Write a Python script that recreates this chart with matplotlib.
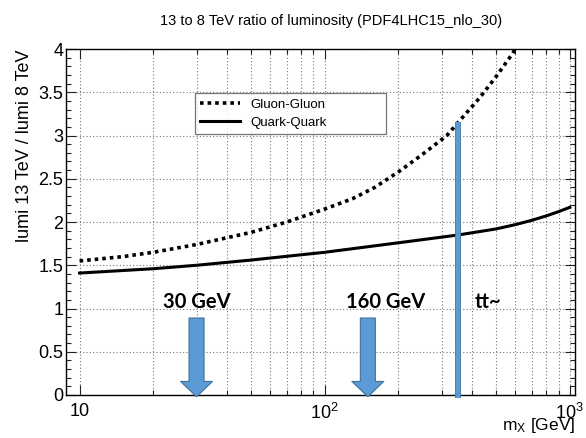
import matplotlib
matplotlib.use('Agg')
import matplotlib.pyplot as plt
import matplotlib.patheffects as pe
from matplotlib.ticker import FixedLocator, FixedFormatter, MultipleLocator, NullFormatter

plt.rcParams['font.family'] = ['Liberation Sans', 'DejaVu Sans']
plt.rcParams['mathtext.fontset'] = 'custom'
plt.rcParams['mathtext.rm'] = 'Liberation Sans'
plt.rcParams['mathtext.it'] = 'Liberation Sans:italic'

# Gluon-Gluon luminosity ratio
mass_gg = [10, 15, 20, 30, 50, 70, 100, 130, 160, 200, 250, 315, 350, 430, 500, 585, 620]
lumi_gg = [1.55, 1.60, 1.65, 1.74, 1.88, 2.00, 2.15, 2.27, 2.40, 2.58, 2.78, 3.00, 3.15,
           3.44, 3.68, 3.95, 4.08]

# Quark-Quark luminosity ratio
mass_qq = [10, 20, 30, 50, 100, 200, 350, 500, 600, 700, 800, 900, 1000]
lumi_qq = [1.41, 1.46, 1.50, 1.56, 1.65, 1.76, 1.85, 1.92, 1.97, 2.02, 2.07, 2.12, 2.17]

# annotations on the plot
arrow_mass = [30, 150]
arrow_labels = ['30 GeV', '160 GeV']
label_mass = [30, 177]
ttbar_mass = 350
ttbar_top = 3.16

blue = '#5B9BD5'
blue_edge = '#41719C'

fig = plt.figure(figsize=(5.86, 4.38), dpi=100)
ax = fig.add_axes([0.1126, 0.0982, 0.8686, 0.7898])

ax.plot(mass_gg, lumi_gg, color='black', lw=2.6, linestyle=(0, (1, 1.1)),
        dash_capstyle='butt', label='Gluon-Gluon')
ax.plot(mass_qq, lumi_qq, color='black', lw=2.2, label='Quark-Quark')

ax.set_xscale('log')
ax.set_xlim(8.8, 1050)
ax.set_ylim(0, 4)

# ticks ROOT style
ax.xaxis.set_major_locator(FixedLocator([10, 100, 1000]))
ax.xaxis.set_major_formatter(FixedFormatter(['10', r'$10^2$', r'$10^3$']))
ax.xaxis.set_minor_locator(FixedLocator([m * d for d in (10, 100) for m in range(2, 10)]))
ax.xaxis.set_minor_formatter(NullFormatter())
ax.yaxis.set_major_locator(MultipleLocator(0.5))
ax.yaxis.set_minor_locator(MultipleLocator(0.1))
ax.yaxis.set_major_formatter(plt.FuncFormatter(lambda v, p: '%g' % v))
ax.tick_params(which='both', direction='in', top=True, right=True, labelsize=13, color='#222222')
ax.tick_params(which='major', length=7, width=0.8)
ax.tick_params(which='minor', length=3.5, width=0.8)
ax.tick_params(axis='x', pad=6)
ax.tick_params(axis='y', pad=2)

ax.grid(True, which='major', axis='both', linestyle=(0, (1, 2)), color='#777777', lw=0.8)
ax.grid(True, which='minor', axis='x', linestyle=(0, (1, 2)), color='#777777', lw=0.8)
ax.set_axisbelow(True)
for s in ax.spines.values():
    s.set_linewidth(1.0)

ax.set_title('13 to 8 TeV ratio of luminosity (PDF4LHC15_nlo_30)', fontsize=10.5, pad=17, x=0.52)
ax.set_ylabel('lumi 13 TeV / lumi 8 TeV', loc='top', fontsize=13, labelpad=4)
ax.set_xlabel(r'm$_{\mathrm{X}}$ [GeV]', loc='right', fontsize=12.5)
ax.xaxis.set_label_coords(1.0, -0.06)

leg = ax.legend(loc='upper left', bbox_to_anchor=(0.253, 0.746, 0.376, 0.127),
                mode='expand', fontsize=9.5, frameon=True, fancybox=False,
                handlelength=3.0, borderaxespad=0, borderpad=0.4, labelspacing=0.45)
leg.get_frame().set_edgecolor('#555555')
leg.get_frame().set_linewidth(0.9)

# blue arrows
for m, lab, lm in zip(arrow_mass, arrow_labels, label_mass):
    ax.annotate('', xy=(m, -0.02), xytext=(m, 0.89), annotation_clip=False,
                arrowprops=dict(arrowstyle='simple,head_width=1.15,head_length=0.55,tail_width=0.54',
                                mutation_scale=20, fc=blue, ec=blue_edge, lw=0.8,
                                shrinkA=0, shrinkB=0), zorder=5)
    ax.text(lm, 1.075, lab, ha='center', va='center', fontsize=14.5,
            fontweight='bold', family=['Lato', 'DejaVu Sans'], zorder=6)

# tt~ threshold line
ax.plot([ttbar_mass, ttbar_mass], [-0.04, ttbar_top], color=blue, lw=3.2, solid_capstyle='butt',
        clip_on=False, zorder=5,
        path_effects=[pe.Stroke(linewidth=4.2, foreground=blue_edge), pe.Normal()])
ax.text(409, 1.075, 'tt~', ha='left', va='center', fontsize=14.5, fontweight='bold',
        family=['Lato', 'DejaVu Sans'], zorder=6)

fig.savefig('out.png', dpi=100)
